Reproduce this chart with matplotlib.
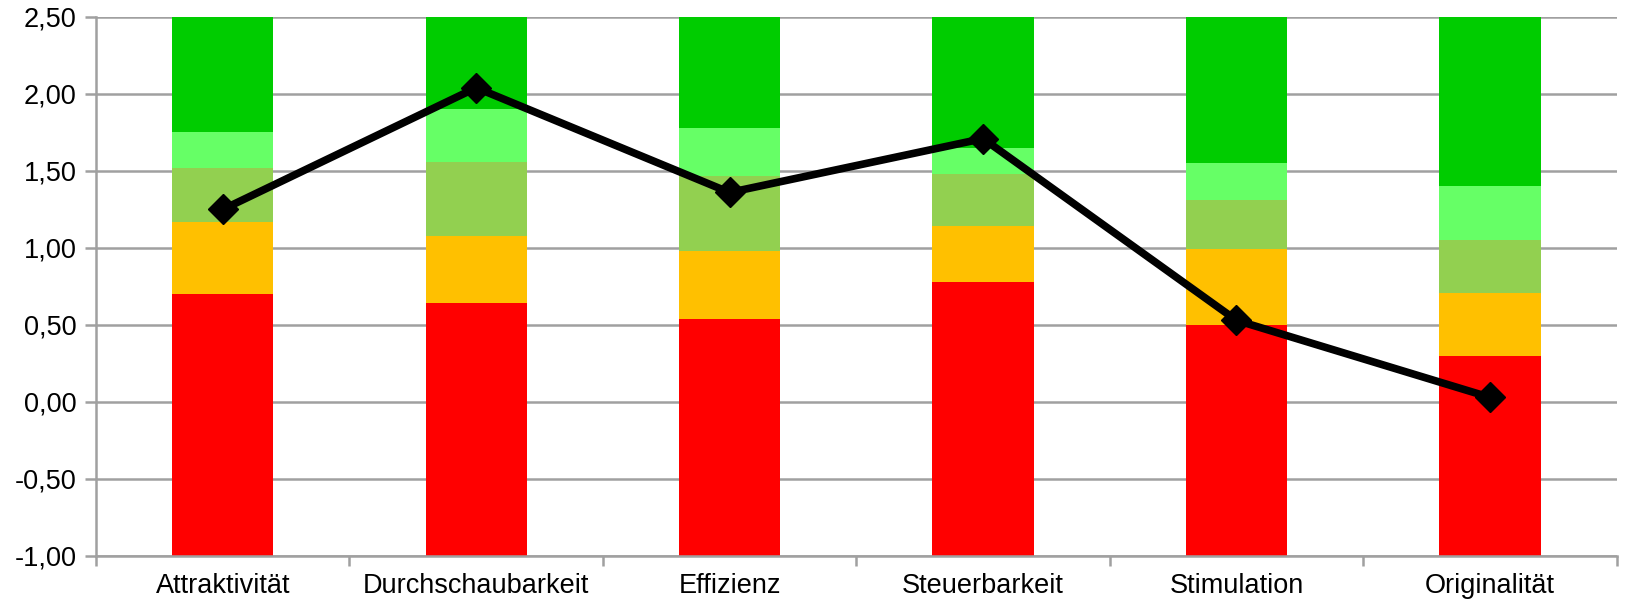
import numpy as np
import matplotlib.pyplot as plt
from matplotlib.ticker import FuncFormatter

plt.rcParams['font.family'] = ['Liberation Sans', 'DejaVu Sans']

skalen = ['Attraktivität', 'Durchschaubarkeit', 'Effizienz',
          'Steuerbarkeit', 'Stimulation', 'Originalität']
# Benchmark-Grenzen (obere Kante jeder Stufe)
schlecht = [0.70, 0.64, 0.54, 0.78, 0.50, 0.30]
unter_durchschnitt = [1.17, 1.08, 0.98, 1.14, 0.99, 0.71]
ueber_durchschnitt = [1.52, 1.56, 1.47, 1.48, 1.31, 1.05]
gut = [1.75, 1.90, 1.78, 1.65, 1.55, 1.40]
exzellent = [2.50, 2.50, 2.50, 2.50, 2.50, 2.50]
mittelwert = [1.25, 2.04, 1.36, 1.71, 0.53, 0.03]

farben = ['#FF0000', '#FFC000', '#92D050', '#66FF66', '#00CC00']
basis = -1.0

fig = plt.figure(figsize=(16.28, 6.04), dpi=100)
ax = fig.add_axes([0.059, 0.0795, 0.934, 0.8925])

x = np.arange(len(skalen))
unten = np.full(len(skalen), basis)
for grenze, farbe in zip([schlecht, unter_durchschnitt, ueber_durchschnitt, gut, exzellent], farben):
    oben = np.array(grenze)
    ax.bar(x, oben - unten, bottom=unten, width=0.4, color=farbe, zorder=2)
    unten = oben

ax.plot(x, mittelwert, color='black', lw=5.5, marker='D', ms=15, zorder=3)

ax.set_xlim(-0.5, len(skalen) - 0.5)
ax.set_ylim(-1.0, 2.5)
ax.set_yticks(np.arange(-1.0, 2.51, 0.5))
ax.yaxis.set_major_formatter(FuncFormatter(lambda v, p: f'{v:.2f}'.replace('.', ',')))
ax.yaxis.grid(True, color='#a0a0a0', lw=1.8, zorder=1)
ax.set_axisbelow(True)

ax.set_xticks(x)
ax.set_xticklabels(skalen)
ax.set_xticks(np.arange(-0.5, len(skalen), 1.0), minor=True)
ax.tick_params(axis='x', which='major', length=0, pad=12, labelsize=19.5)
ax.tick_params(axis='x', which='minor', length=7, width=1.8, color='#a0a0a0')
ax.tick_params(axis='y', length=8, width=1.8, color='#a0a0a0', labelsize=19.5, pad=6)

for s in ['top', 'right']:
    ax.spines[s].set_visible(False)
for s in ['left', 'bottom']:
    ax.spines[s].set_color('#a0a0a0')
    ax.spines[s].set_linewidth(1.8)

fig.savefig('out.png', dpi=100)
